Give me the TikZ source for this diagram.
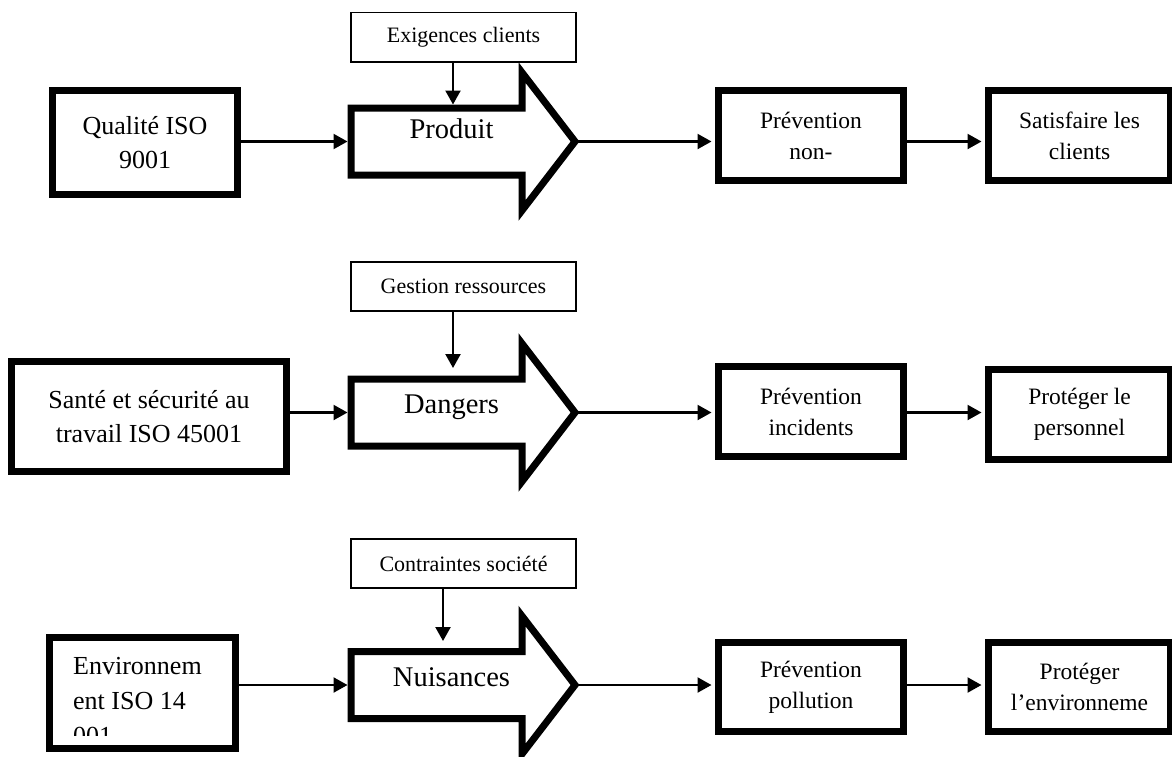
\documentclass[tikz,border=0pt]{standalone}
\usepackage{fontspec}
\setmainfont{Liberation Serif}
\usetikzlibrary{arrows.meta}
\begin{document}
\begin{tikzpicture}[x=1pt,y=-1pt,
  thickbox/.style={draw, line width=7pt, inner sep=0pt, align=center},
  lefttxt/.style={font=\fontsize{26}{34}\selectfont},
  righttxt/.style={font=\fontsize{23.5}{31}\selectfont},
  arrowtxt/.style={font=\fontsize{28.5}{34}\selectfont, inner sep=0pt},
  topbox/.style={draw, line width=1.6pt, inner sep=0pt,
    minimum width=225.4pt, minimum height=49.4pt,
    font=\fontsize{22}{26}\selectfont},
  bigarrow/.style={draw, line width=7pt, line join=miter},
  link/.style={line width=2.2pt, -{Triangle[length=14pt,width=15pt]}},
  midbox/.style={thickbox, righttxt, minimum width=185pt, minimum height=90pt},
  endbox/.style={thickbox, righttxt, minimum width=182pt, minimum height=90pt}
]
\useasboundingbox (0,0) rectangle (1172,756);
\clip (0,0) rectangle (1172,756);

% ---------- row 1 : quality ----------
\node[topbox] (ex) at (463.5,37) {Exigences clients};
\node[thickbox, lefttxt, minimum width=185pt, minimum height=104pt]
  (q1) at (145,142.5) {Qualité ISO\\9001};
\draw[bigarrow] (351,108) -- (522,108) -- (522,72.5)
  -- (575,141.5) -- (522,210.5) -- (522,175) -- (351,175) -- cycle;
\node[arrowtxt, anchor=base] (t1) at (451.5,138) {Produit};
\coordinate (a1w) at (347.5,141.5);
\coordinate (a1tip) at (575,141.5);
\coordinate (d1) at (453,104.5);
\node[midbox] (p1) at (811,135.5) {Prévention\\non-};
\node[endbox] (s1) at (1079.5,135.5) {Satisfaire les\\clients};

\draw[link] (ex.south -| d1) -- (d1);
\draw[link] (q1.east |- a1w) -- (a1w);
\draw[link, shorten >=3.5pt] (a1tip) -- (p1.west |- a1tip);
\draw[link, shorten >=3.5pt] (p1.east |- a1tip) -- (s1.west |- a1tip);

% ---------- row 2 : health and safety ----------
\node[topbox] (gr) at (463.5,286.5) {Gestion ressources};
\node[thickbox, lefttxt, minimum width=275pt, minimum height=110pt]
  (q2) at (149,416.5) {Santé et sécurité au\\travail ISO 45001};
\draw[bigarrow] (351,379) -- (522,379) -- (522,343.5)
  -- (575,412.5) -- (522,481.5) -- (522,446) -- (351,446) -- cycle;
\node[arrowtxt, anchor=base] (t2) at (451.5,413) {Dangers};
\coordinate (a2w) at (347.5,412.5);
\coordinate (a2tip) at (575,412.5);
\coordinate (d2) at (453,368);
\node[midbox] (p2) at (811,411.5) {Prévention\\incidents};
\node[endbox] (s2) at (1079.5,414.5) {Protéger le\\personnel};

\draw[link] (gr.south -| d2) -- (d2);
\draw[link] (q2.east |- a2w) -- (a2w);
\draw[link, shorten >=3.5pt] (a2tip) -- (p2.west |- a2tip);
\draw[link, shorten >=3.5pt] (p2.east |- a2tip) -- (s2.west |- a2tip);

% ---------- row 3 : environment ----------
\node[topbox] (cs) at (463.5,563.5) {Contraintes société};
\node[thickbox, minimum width=186pt, minimum height=111pt]
  (q3) at (142.5,693) {};
\begin{scope}
  \clip (53,641) rectangle (232,735);
  \node[lefttxt, font=\fontsize{26}{35}\selectfont, align=left,
    inner sep=0pt, anchor=north west] (envtxt) at (73,657)
    {Environnem\\ent ISO 14\\001};
\end{scope}
\draw[bigarrow] (351,651.5) -- (522,651.5) -- (522,616)
  -- (575,685) -- (522,754) -- (522,718.5) -- (351,718.5) -- cycle;
\node[arrowtxt, anchor=base] (t3) at (451.5,686) {Nuisances};
\coordinate (a3w) at (347.5,685);
\coordinate (a3tip) at (575,685);
\coordinate (d3) at (443,641);
\node[midbox, minimum height=89pt] (p3) at (811,687) {Prévention\\pollution};
\node[endbox, minimum height=89pt] (s3) at (1079.5,687) {Protéger\\l’environneme};

\draw[link] (cs.south -| d3) -- (d3);
\draw[link] (q3.east |- a3w) -- (a3w);
\draw[link, shorten >=3.5pt] (a3tip) -- (p3.west |- a3tip);
\draw[link, shorten >=3.5pt] (p3.east |- a3tip) -- (s3.west |- a3tip);
\end{tikzpicture}
\end{document}
